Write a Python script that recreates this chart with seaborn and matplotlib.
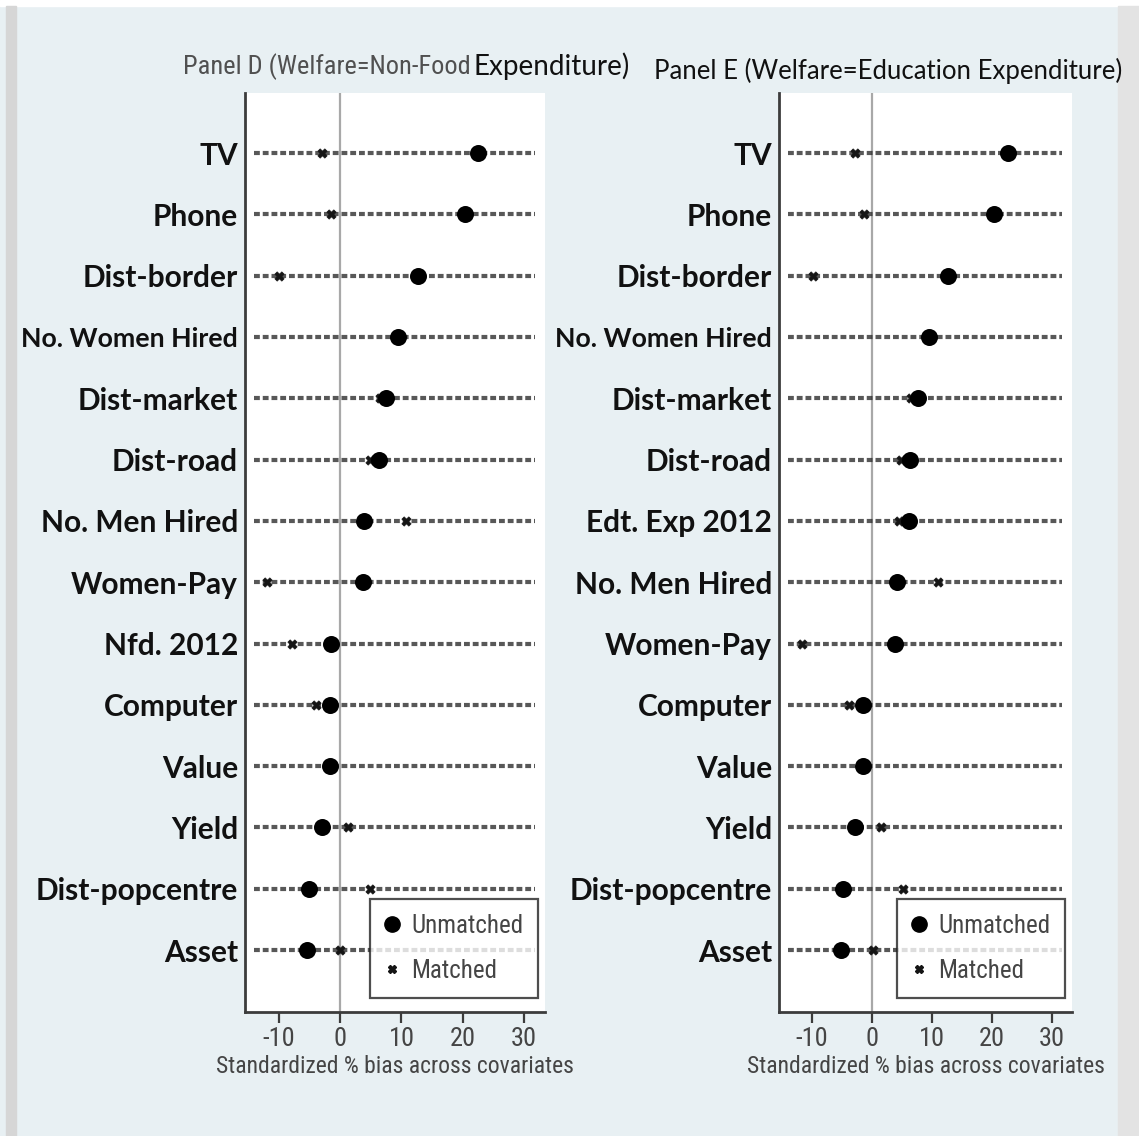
import matplotlib
matplotlib.use("Agg")
import matplotlib.pyplot as plt
from matplotlib import font_manager
from matplotlib.lines import Line2D
import seaborn as sns
import pandas as pd

# Covariates and standardized % bias (Panel D: non-food expenditure)
labels_d = ["TV", "Phone", "Dist-border", "No. Women Hired", "Dist-market",
            "Dist-road", "No. Men Hired", "Women-Pay", "Nfd. 2012", "Computer",
            "Value", "Yield", "Dist-popcentre", "Asset"]
unmatched_d = [22.5, 20.4, 12.7, 9.5, 7.5, 6.4, 3.9, 3.8, -1.5, -1.6, -1.6, -2.9, -5.0, -5.4]
matched_d = [-2.9, -1.5, -10.0, 9.2, 6.5, 4.9, 10.8, -11.9, -7.8, -4.0, -1.8, 1.3, 4.9, 0.0]

# Covariates and standardized % bias (Panel E: education expenditure)
labels_e = ["TV", "Phone", "Dist-border", "No. Women Hired", "Dist-market",
            "Dist-road", "Edt. Exp 2012", "No. Men Hired", "Women-Pay", "Computer",
            "Value", "Yield", "Dist-popcentre", "Asset"]
unmatched_e = [22.7, 20.4, 12.7, 9.6, 7.7, 6.4, 6.2, 4.2, 3.9, -1.5, -1.5, -2.8, -4.9, -5.1]
matched_e = [-2.8, -1.3, -9.8, 9.3, 6.5, 4.9, 4.6, 11.1, -11.7, -3.9, -1.7, 1.5, 5.2, 0.2]

x_ticks = [-10, 0, 10, 20, 30]
x_label = "Standardized % bias across covariates"
title_d_a = "Panel D (Welfare=Non-Food"
title_d_b = "Expenditure)"
title_e = "Panel E (Welfare=Education Expenditure)"
legend_labels = ["Unmatched", "Matched"]
small_label = "No. Women Hired"

available = {f.name for f in font_manager.fontManager.ttflist}


def pick(*names):
    for n in names:
        if n in available:
            return n
    return "DejaVu Sans"


narrow = pick("Roboto Condensed", "Liberation Sans Narrow", "Roboto", "DejaVu Sans")
label_font = pick("Lato", "Roboto", "DejaVu Sans")

sns.set_theme(style="white")
plt.rcParams["font.family"] = [narrow, "DejaVu Sans"]

BG = "#e8f0f3"
GREY_TXT = "#454545"
SPINE = "#3c3c3c"

W, H = 1139, 1136
fig = plt.figure(figsize=(W / 100, H / 100), dpi=100, facecolor=BG)

# frame strips of the surrounding window
fig.patches.append(plt.Rectangle((0, 1 - 6 / H), 1, 6 / H, transform=fig.transFigure,
                                 color="white", zorder=0))
fig.patches.append(plt.Rectangle((6 / W, 0), 10 / W, 1 - 6 / H, transform=fig.transFigure,
                                 color="#d6d6d6", zorder=0))
fig.patches.append(plt.Rectangle((1118 / W, 0), 21 / W, 1 - 6 / H, transform=fig.transFigure,
                                 color="#e3e3e3", zorder=0))


def panel(left_px, width_px, labels, unmatched, matched):
    ax = fig.add_axes([left_px / W, 1 - 1012 / H, width_px / W, (1012 - 93) / H])
    ax.set_facecolor("white")
    df = pd.DataFrame({
        "covariate": labels * 2,
        "bias": unmatched + matched,
        "sample": [legend_labels[0]] * len(labels) + [legend_labels[1]] * len(labels),
    })
    pos = list(range(len(labels)))
    ax.hlines(pos, -14, 31.8, colors="#2e2e2e", linestyles=(0, (1.4, 0.7)),
              linewidth=3.0, alpha=0.8, zorder=1)
    ax.axvline(0, color="#a8a8a8", linewidth=1.6, zorder=0.5)
    sns.scatterplot(data=df[df["sample"] == legend_labels[1]], x="bias", y="covariate",
                    marker="X", s=45, color="#151515", edgecolor="#151515",
                    linewidth=0.5, ax=ax, zorder=3, legend=False)
    sns.scatterplot(data=df[df["sample"] == legend_labels[0]], x="bias", y="covariate",
                    marker="o", s=150, color="black", edgecolor="black",
                    linewidth=0, ax=ax, zorder=4, legend=False)
    ax.set_xlim(-15.5, 33.4)
    ax.set_ylim(len(labels) - 1 + 1.01, -0.98)
    ax.set_xticks(x_ticks)
    ax.set_xticklabels([str(t) for t in x_ticks], color=GREY_TXT, fontsize=19,
                       family=[narrow, "DejaVu Sans"])
    ax.set_yticks(pos)
    ax.set_yticklabels(labels, fontsize=21.5, fontweight="bold", color="#111111",
                       family=[label_font, "DejaVu Sans"])
    for t in ax.get_yticklabels():
        if t.get_text() == small_label:
            t.set_fontsize(19.3)
    ax.tick_params(axis="x", direction="out", length=8, width=1.6, color=SPINE, pad=3,
                   bottom=True)
    ax.tick_params(axis="y", length=0, pad=5)
    for side in ("top", "right"):
        ax.spines[side].set_visible(False)
    for side in ("left", "bottom"):
        ax.spines[side].set_color(SPINE)
        ax.spines[side].set_linewidth(2)
    ax.set_xlabel(x_label, color=GREY_TXT, fontsize=17, labelpad=3)
    ax.set_ylabel("")
    handles = [
        Line2D([], [], marker="o", linestyle="none", color="black", markersize=11),
        Line2D([], [], marker="X", linestyle="none", color="#151515", markersize=6),
    ]
    leg = ax.legend(handles, legend_labels, loc="lower right",
                    bbox_to_anchor=(0.977, 0.015), frameon=True, fancybox=False,
                    fontsize=18, labelcolor=GREY_TXT, handletextpad=0.45,
                    borderpad=0.6, labelspacing=0.85, handlelength=0.6,
                    borderaxespad=0)
    leg.get_frame().set_edgecolor("#222222")
    leg.get_frame().set_linewidth(1.6)
    leg.set_zorder(5)
    return ax


ax_d = panel(245, 300, labels_d, unmatched_d, matched_d)
ax_e = panel(779, 293, labels_e, unmatched_e, matched_e)

fig.text(471 / W, 1 - 67 / H, title_d_a, ha="right", va="center", fontsize=19,
         color="#505050", family=[narrow, "DejaVu Sans"])
fig.text(473 / W, 1 - 66 / H, title_d_b, ha="left", va="center", fontsize=20,
         color="#111111", family=[label_font, "DejaVu Sans"])
fig.text(888 / W, 1 - 71 / H, title_e, ha="center", va="center", fontsize=18.5,
         color="#111111", family=[label_font, "DejaVu Sans"])

fig.savefig("out.png", dpi=100, facecolor=BG)
